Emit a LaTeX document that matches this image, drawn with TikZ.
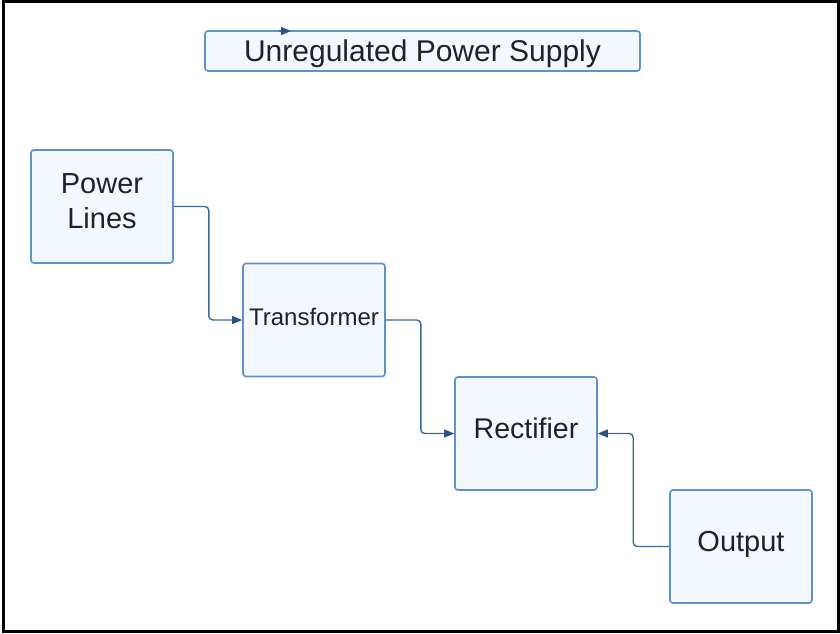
\documentclass[tikz,border=0pt]{standalone}
\usepackage{fontspec}
\setmainfont{Liberation Sans}
\usetikzlibrary{arrows.meta}
\definecolor{boxline}{HTML}{5F92CB}
\definecolor{boxfill}{HTML}{F3F8FE}
\definecolor{connline}{HTML}{3D6898}
\definecolor{tipcol}{HTML}{2B5283}
\definecolor{txt}{HTML}{1F2226}
\tikzset{
  blk/.style={draw=boxline, fill=boxfill, line width=1.6pt, rounded corners=3pt,
    minimum width=142pt, minimum height=113pt, inner sep=0pt, text=txt, align=center},
  conn/.style={draw=connline, line width=1.4pt, rounded corners=4pt,
    -{Triangle[length=10pt,width=8pt,fill=tipcol,color=tipcol]}},
}
\begin{document}
\begin{tikzpicture}[x=1pt,y=-1pt]
\useasboundingbox (0,0) rectangle (840,633);
\fill[white] (0,0) rectangle (840,633);
\draw[black, line width=3pt] (3,1.5) rectangle (838,631.5);
% title
\node[draw=boxline, fill=boxfill, line width=1.6pt, rounded corners=3pt,
  minimum width=435pt, minimum height=40pt, inner sep=0pt, text=txt,
  font=\fontsize{30}{36}\selectfont, text height=25pt, text depth=3.6pt]
  (title) at (422.5,51) {Unregulated Power Supply};
\coordinate (s1) at (279,31);
\coordinate (s2) at (291,31);
\draw[conn] (s1) -- (s2);
% blocks
\node[blk, font=\fontsize{29}{35}\selectfont, text height=55.8pt, text depth=12.2pt]
  (pl) at (102,206.5) {Power\\Lines};
\node[blk, font=\fontsize{24}{28}\selectfont, text height=17pt, text depth=7pt]
  (tr) at (314,320) {Transformer};
\node[blk, font=\fontsize{28.5}{34}\selectfont, text height=20.4pt, text depth=10.8pt]
  (re) at (526,433.5) {Rectifier};
\node[blk, font=\fontsize{29}{34}\selectfont, text height=21pt, text depth=10.6pt]
  (out) at (741,546.5) {Output};
% connectors
\draw[conn] (pl.east) -- ++(35,0) |- (tr.west);
\draw[conn] (tr.east) -- ++(35,0) |- (re.west);
\draw[conn] (out.west) -- ++(-36,0) |- (re.east);
\end{tikzpicture}
\end{document}
